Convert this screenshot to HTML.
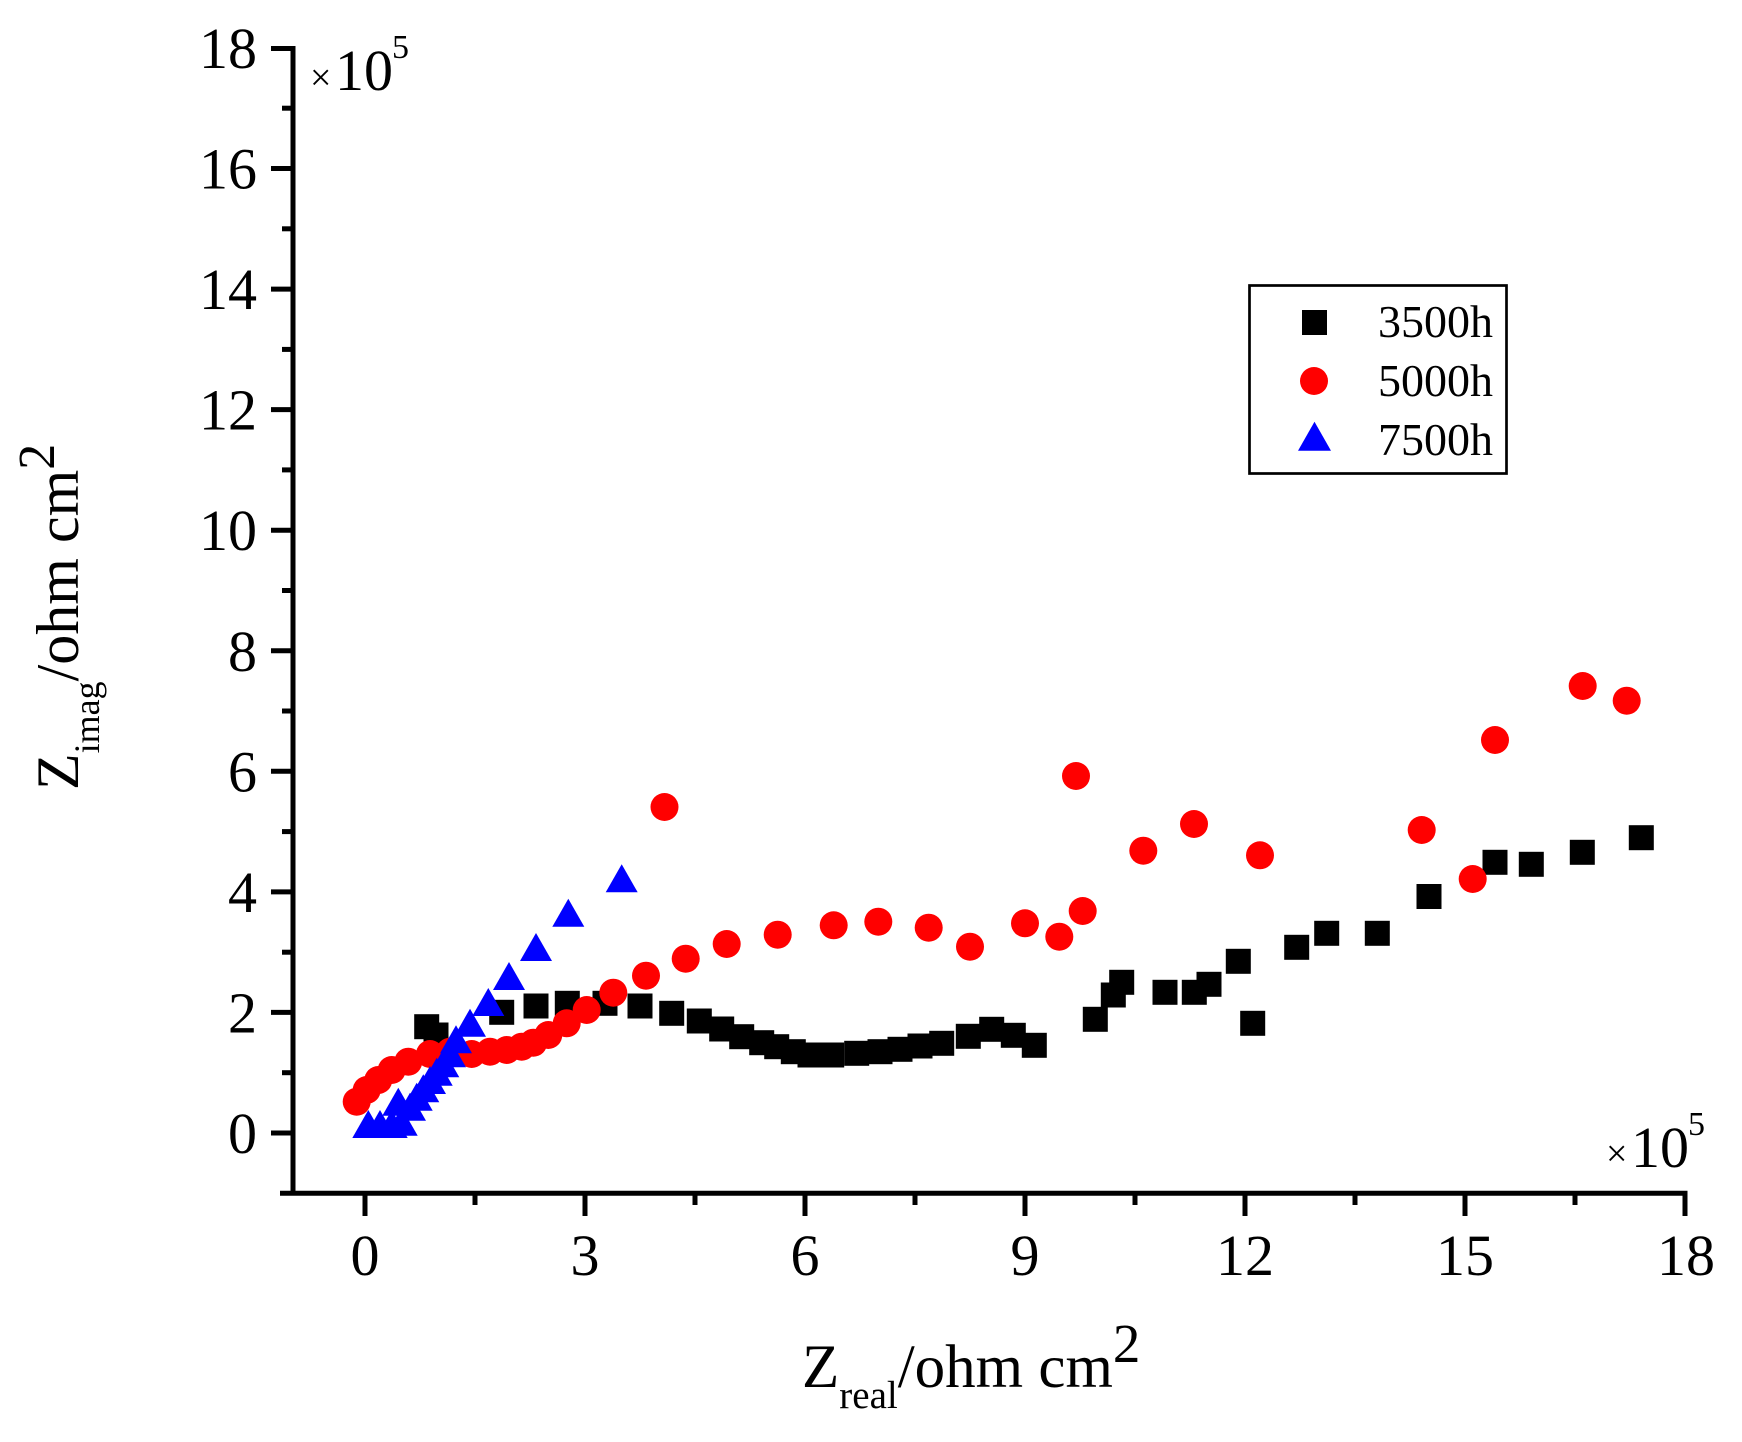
<!DOCTYPE html>
<html>
<head>
<meta charset="utf-8">
<style>
  html, body { margin: 0; padding: 0; background: #ffffff; }
  svg { display: block; }
  text { font-family: "Liberation Serif", "Times New Roman", serif; fill: #000; }
</style>
</head>
<body>
<svg width="1742" height="1442" viewBox="0 0 1742 1442" xmlns="http://www.w3.org/2000/svg">
  <rect x="0" y="0" width="1742" height="1442" fill="#ffffff"/>

  <g stroke="#000" stroke-width="5" fill="none">
    <line x1="293" y1="46" x2="293" y2="1195.5"/>
    <line x1="280" y1="1193.3" x2="1687.5" y2="1193.3"/>
    <line x1="271" y1="1133" x2="293" y2="1133"/>
    <line x1="271" y1="1012.4" x2="293" y2="1012.4"/>
    <line x1="271" y1="891.9" x2="293" y2="891.9"/>
    <line x1="271" y1="771.3" x2="293" y2="771.3"/>
    <line x1="271" y1="650.8" x2="293" y2="650.8"/>
    <line x1="271" y1="530.2" x2="293" y2="530.2"/>
    <line x1="271" y1="409.6" x2="293" y2="409.6"/>
    <line x1="271" y1="289.1" x2="293" y2="289.1"/>
    <line x1="271" y1="168.5" x2="293" y2="168.5"/>
    <line x1="271" y1="48.5" x2="295" y2="48.5"/>
    <line x1="282" y1="1072.7" x2="293" y2="1072.7"/>
    <line x1="282" y1="952.2" x2="293" y2="952.2"/>
    <line x1="282" y1="831.6" x2="293" y2="831.6"/>
    <line x1="282" y1="711.0" x2="293" y2="711.0"/>
    <line x1="282" y1="590.5" x2="293" y2="590.5"/>
    <line x1="282" y1="469.9" x2="293" y2="469.9"/>
    <line x1="282" y1="349.4" x2="293" y2="349.4"/>
    <line x1="282" y1="228.8" x2="293" y2="228.8"/>
    <line x1="282" y1="108.2" x2="293" y2="108.2"/>
    <line x1="365" y1="1193" x2="365" y2="1216"/>
    <line x1="585" y1="1193" x2="585" y2="1216"/>
    <line x1="805" y1="1193" x2="805" y2="1216"/>
    <line x1="1025" y1="1193" x2="1025" y2="1216"/>
    <line x1="1245" y1="1193" x2="1245" y2="1216"/>
    <line x1="1465" y1="1193" x2="1465" y2="1216"/>
    <line x1="1685" y1="1191" x2="1685" y2="1216"/>
    <line x1="475" y1="1193" x2="475" y2="1205"/>
    <line x1="695" y1="1193" x2="695" y2="1205"/>
    <line x1="915" y1="1193" x2="915" y2="1205"/>
    <line x1="1135" y1="1193" x2="1135" y2="1205"/>
    <line x1="1355" y1="1193" x2="1355" y2="1205"/>
    <line x1="1575" y1="1193" x2="1575" y2="1205"/>
  </g>

  <g font-size="58" text-anchor="end">
    <text x="257" y="1153">0</text>
    <text x="257" y="1032.4">2</text>
    <text x="257" y="911.9">4</text>
    <text x="257" y="791.3">6</text>
    <text x="257" y="670.8">8</text>
    <text x="257" y="550.2">10</text>
    <text x="257" y="429.6">12</text>
    <text x="257" y="309.1">14</text>
    <text x="257" y="188.5">16</text>
    <text x="257" y="68">18</text>
  </g>

  <g font-size="58" text-anchor="middle">
    <text x="365" y="1275">0</text>
    <text x="585" y="1275">3</text>
    <text x="805" y="1275">6</text>
    <text x="1025" y="1275">9</text>
    <text x="1245" y="1275">12</text>
    <text x="1465" y="1275">15</text>
    <text x="1686" y="1275">18</text>
  </g>

  <text x="310" y="90" font-size="38">×</text>
  <text x="335" y="90" font-size="58">10</text>
  <text x="392" y="58" font-size="34">5</text>

  <text x="1606" y="1166" font-size="38">×</text>
  <text x="1631" y="1167" font-size="58">10</text>
  <text x="1688" y="1135" font-size="34">5</text>

  <text x="802" y="1387" font-size="61">Z<tspan font-size="39" dy="21">real</tspan><tspan dy="-21">/ohm cm</tspan><tspan font-size="55" dy="-25">2</tspan></text>

  <g transform="translate(78,790) rotate(-90)">
    <text x="0" y="0" font-size="60">Z<tspan font-size="36" dy="21">imag</tspan><tspan dy="-21">/ohm cm</tspan><tspan font-size="52" dy="-24">2</tspan></text>
  </g>

  <g fill="#000">
    <rect x="414.2" y="1014.2" width="25" height="25"/>
    <rect x="423.5" y="1022.5" width="25" height="25"/>
    <rect x="489.2" y="999.8" width="25" height="25"/>
    <rect x="523.5" y="993.5" width="25" height="25"/>
    <rect x="554.8" y="990.8" width="25" height="25"/>
    <rect x="592.5" y="990.8" width="25" height="25"/>
    <rect x="627.5" y="993.5" width="25" height="25"/>
    <rect x="659.2" y="1000.8" width="25" height="25"/>
    <rect x="686.8" y="1008.5" width="25" height="25"/>
    <rect x="709.2" y="1016.5" width="25" height="25"/>
    <rect x="729.2" y="1024.2" width="25" height="25"/>
    <rect x="749.2" y="1030.2" width="25" height="25"/>
    <rect x="764.2" y="1034.2" width="25" height="25"/>
    <rect x="780.8" y="1039.2" width="25" height="25"/>
    <rect x="797.5" y="1042.5" width="25" height="25"/>
    <rect x="819.2" y="1042.5" width="25" height="25"/>
    <rect x="844.2" y="1040.8" width="25" height="25"/>
    <rect x="867.5" y="1039.2" width="25" height="25"/>
    <rect x="887.5" y="1036.8" width="25" height="25"/>
    <rect x="907.5" y="1033.5" width="25" height="25"/>
    <rect x="929.2" y="1030.8" width="25" height="25"/>
    <rect x="955.8" y="1023.8" width="25" height="25"/>
    <rect x="979.2" y="1016.8" width="25" height="25"/>
    <rect x="1000.8" y="1022.8" width="25" height="25"/>
    <rect x="1021.8" y="1032.8" width="25" height="25"/>
    <rect x="1082.8" y="1006.8" width="25" height="25"/>
    <rect x="1100.8" y="982.5" width="25" height="25"/>
    <rect x="1109.2" y="969.8" width="25" height="25"/>
    <rect x="1152.5" y="979.8" width="25" height="25"/>
    <rect x="1181.8" y="979.8" width="25" height="25"/>
    <rect x="1196.5" y="971.8" width="25" height="25"/>
    <rect x="1225.8" y="948.8" width="25" height="25"/>
    <rect x="1240.2" y="1010.8" width="25" height="25"/>
    <rect x="1284.2" y="934.8" width="25" height="25"/>
    <rect x="1314.2" y="920.8" width="25" height="25"/>
    <rect x="1364.8" y="920.8" width="25" height="25"/>
    <rect x="1416.5" y="884" width="25" height="25"/>
    <rect x="1482.5" y="849.8" width="25" height="25"/>
    <rect x="1518.8" y="851.8" width="25" height="25"/>
    <rect x="1569.8" y="839.8" width="25" height="25"/>
    <rect x="1628.8" y="825.2" width="25" height="25"/>
  </g>

  <g fill="#ff0000">
    <circle cx="356.7" cy="1101.7" r="14"/>
    <circle cx="366.7" cy="1090" r="14"/>
    <circle cx="378.3" cy="1080" r="14"/>
    <circle cx="391.7" cy="1070" r="14"/>
    <circle cx="408.3" cy="1061.7" r="14"/>
    <circle cx="430" cy="1054" r="14"/>
    <circle cx="450" cy="1051.7" r="14"/>
    <circle cx="471.7" cy="1054" r="14"/>
    <circle cx="490" cy="1051.7" r="14"/>
    <circle cx="506.7" cy="1050" r="14"/>
    <circle cx="521.7" cy="1046.7" r="14"/>
    <circle cx="533.3" cy="1042.7" r="14"/>
    <circle cx="548.3" cy="1035" r="14"/>
    <circle cx="566.7" cy="1023.3" r="14"/>
    <circle cx="586.7" cy="1010" r="14"/>
    <circle cx="613.3" cy="992.7" r="14"/>
    <circle cx="646" cy="975.7" r="14"/>
    <circle cx="685.7" cy="958.7" r="14"/>
    <circle cx="726.7" cy="944" r="14"/>
    <circle cx="777.7" cy="934.7" r="14"/>
    <circle cx="833.7" cy="925.3" r="14"/>
    <circle cx="878.3" cy="921.7" r="14"/>
    <circle cx="928.7" cy="927.7" r="14"/>
    <circle cx="970" cy="946.7" r="14"/>
    <circle cx="1025" cy="923.3" r="14"/>
    <circle cx="1059.3" cy="936.7" r="14"/>
    <circle cx="1082.7" cy="911" r="14"/>
    <circle cx="1076" cy="776" r="14"/>
    <circle cx="1143.3" cy="850.7" r="14"/>
    <circle cx="1194" cy="824" r="14"/>
    <circle cx="1260" cy="855.3" r="14"/>
    <circle cx="1421.7" cy="830" r="14"/>
    <circle cx="1472.7" cy="879" r="14"/>
    <circle cx="1495" cy="740" r="14"/>
    <circle cx="1582.7" cy="686" r="14"/>
    <circle cx="1626.7" cy="700.7" r="14"/>
    <circle cx="664.5" cy="807" r="14"/>
  </g>

  <g fill="#0000ff">
    <polygon points="368.3,1110 352.3,1138 384.3,1138"/>
    <polygon points="380,1110 364,1138 396,1138"/>
    <polygon points="391.7,1110 375.7,1138 407.7,1138"/>
    <polygon points="401.7,1107.7 385.7,1135.7 417.7,1135.7"/>
    <polygon points="398.3,1087.7 382.3,1115.7 414.3,1115.7"/>
    <polygon points="410,1092.7 394,1120.7 426,1120.7"/>
    <polygon points="416.7,1082.7 400.7,1110.7 432.7,1110.7"/>
    <polygon points="423.3,1074.3 407.3,1102.3 439.3,1102.3"/>
    <polygon points="430,1066 414,1094 446,1094"/>
    <polygon points="436.7,1057.7 420.7,1085.7 452.7,1085.7"/>
    <polygon points="443.3,1049.3 427.3,1077.3 459.3,1077.3"/>
    <polygon points="450,1039.3 434,1067.3 466,1067.3"/>
    <polygon points="456,1025.3 440,1053.3 472,1053.3"/>
    <polygon points="470,1008.7 454,1036.7 486,1036.7"/>
    <polygon points="488.3,988 472.3,1016 504.3,1016"/>
    <polygon points="509,962 493,990 525,990"/>
    <polygon points="536,933 520,961 552,961"/>
    <polygon points="568.3,898.7 552.3,926.7 584.3,926.7"/>
    <polygon points="621.7,864.3 605.7,892.3 637.7,892.3"/>
  </g>

  <rect x="1249.5" y="285.5" width="257" height="188" fill="none" stroke="#000" stroke-width="2.7"/>
  <rect x="1302" y="310" width="25" height="25" fill="#000"/>
  <circle cx="1314" cy="381" r="14" fill="#ff0000"/>
  <polygon points="1314.5,421.7 1298,450.7 1331,450.7" fill="#0000ff"/>
  <g font-size="46">
    <text x="1378" y="337">3500h</text>
    <text x="1378" y="396">5000h</text>
    <text x="1378" y="455">7500h</text>
  </g>
</svg>
</body>
</html>
